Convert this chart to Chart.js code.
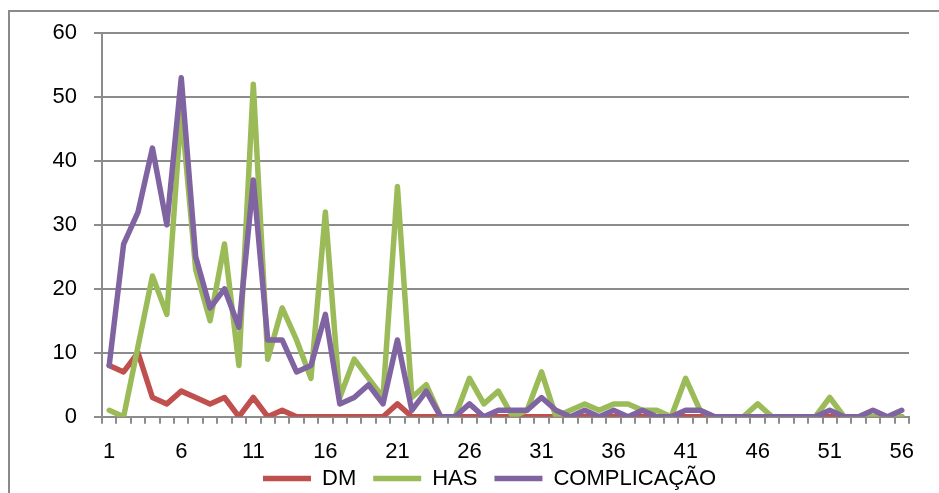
<!DOCTYPE html>
<html>
<head>
<meta charset="utf-8">
<script src="https://cdn.jsdelivr.net/npm/chart.js@4/dist/chart.umd.min.js"></script>
<style>
  html, body { margin: 0; padding: 0; background: #fff; overflow: hidden; }
  #wrap { position: relative; width: 939px; height: 493px; overflow: hidden; }
  #frame { position: absolute; left: 8px; top: 10px; width: 2000px; height: 2000px; border: 2px solid #8a8a8a; box-sizing: border-box; }
  canvas { position: absolute; left: 0; top: 0; }
</style>
</head>
<body>
<div id="wrap">
  <div id="frame"></div>
  <canvas id="c" width="939" height="493"></canvas>
</div>
<script>
// Categories 1..56
const categories = [];
for (let i = 1; i <= 56; i++) categories.push(String(i));

const seriesNames = ['DM', 'HAS', 'COMPLICAÇÃO'];

const dmValues = [8, 7, 10, 3, 2, 4, 3, 2, 3, 0, 3, 0, 1, 0, 0, 0, 0, 0, 0, 0,
  2, 0, 0, 0, 0, 0, 0, 0, 0, 0, 0, 0, 0, 0, 0, 0, 0, 0, 0, 0,
  0, 0, 0, 0, 0, 0, 0, 0, 0, 0, 0, 0, 0, 0, 0, 0];

const hasValues = [1, 0, 11, 22, 16, 48, 23, 15, 27, 8, 52, 9, 17, 12, 6, 32, 3, 9, 6, 3,
  36, 3, 5, 0, 0, 6, 2, 4, 0, 1, 7, 0, 1, 2, 1, 2, 2, 1, 1, 0,
  6, 1, 0, 0, 0, 2, 0, 0, 0, 0, 3, 0, 0, 0, 0, 0];

const complicacaoValues = [8, 27, 32, 42, 30, 53, 25, 17, 20, 14, 37, 12, 12, 7, 8, 16, 2, 3, 5, 2,
  12, 1, 4, 0, 0, 2, 0, 1, 1, 1, 3, 1, 0, 1, 0, 1, 0, 1, 0, 0,
  1, 1, 0, 0, 0, 0, 0, 0, 0, 0, 1, 0, 0, 1, 0, 1];

const yTicks = [0, 10, 20, 30, 40, 50, 60];

const colors = ['#C0504D', '#9BBB59', '#8064A2'];
const gridColor = '#8c8c8c';
const FONT = "'Liberation Sans', Arial, sans-serif";

function lineDataset(label, data, color, order) {
  return {
    label, data, order,
    borderColor: color,
    backgroundColor: color,
    borderWidth: 5.5,
    borderCapStyle: 'round',
    borderJoinStyle: 'round',
    pointRadius: 0,
    pointHoverRadius: 0,
    tension: 0,
    fill: false
  };
}

// Moves the legend row to its place under the axis labels
const legendPlacer = {
  id: 'legendPlacer',
  afterLayout(chart) {
    const lg = chart.legend;
    if (!lg) return;
    const pad = lg.options.labels.padding;
    const w = lg.width, h = lg.height;
    lg.left = 263 - pad;
    lg.top = 478.5 - pad - 11;
    lg.right = lg.left + w;
    lg.bottom = lg.top + h;
  }
};

new Chart(document.getElementById('c'), {
  type: 'line',
  data: {
    labels: categories,
    datasets: [
      lineDataset(seriesNames[0], dmValues, colors[0], 3),
      lineDataset(seriesNames[1], hasValues, colors[1], 2),
      lineDataset(seriesNames[2], complicacaoValues, colors[2], 1)
    ]
  },
  plugins: [legendPlacer],
  options: {
    responsive: false,
    animation: false,
    layout: { padding: { left: 0, right: 30, top: 33, bottom: -20.7 } },
    plugins: {
      tooltip: { enabled: false },
      title: { display: false },
      legend: {
        display: true,
        position: 'bottom',
        align: 'start',
        labels: {
          usePointStyle: true,
          pointStyle: 'line',
          pointStyleWidth: 48,
          boxHeight: 22,
          padding: 17,
          color: '#000',
          font: { family: FONT, size: 22 },
          sort: (a, b) => a.datasetIndex - b.datasetIndex
        }
      }
    },
    scales: {
      x: {
        type: 'category',
        offset: true,
        grid: {
          offset: true,
          drawOnChartArea: false,
          drawTicks: true,
          tickLength: 7,
          color: gridColor,
          lineWidth: 2
        },
        border: { display: true, color: gridColor, width: 2 },
        ticks: {
          autoSkip: false,
          maxRotation: 0,
          minRotation: 0,
          padding: 15,
          color: '#000',
          font: { family: FONT, size: 22 },
          callback: function (value, index) {
            return index % 5 === 0 ? categories[index] : '';
          }
        },
        afterFit(scale) { scale.height = 48; }
      },
      y: {
        min: 0,
        max: 60,
        afterBuildTicks(scale) { scale.ticks = yTicks.map(v => ({ value: v })); },
        grid: {
          drawOnChartArea: true,
          drawTicks: true,
          tickLength: 8,
          color: gridColor,
          lineWidth: 2
        },
        border: { display: true, color: gridColor, width: 2 },
        ticks: {
          padding: 17,
          color: '#000',
          font: { family: FONT, size: 22 }
        },
        afterFit(scale) { scale.width = 102; }
      }
    }
  }
});
</script>
</body>
</html>
